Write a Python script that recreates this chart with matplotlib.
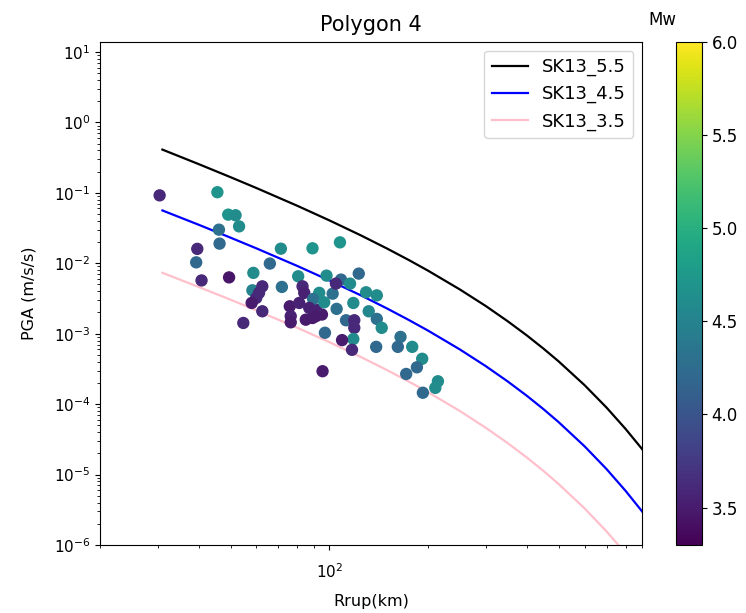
import matplotlib
matplotlib.use("Agg")
import matplotlib.pyplot as plt
from matplotlib.ticker import NullFormatter

# Recorded stations: rupture distance (km), PGA (m/s/s), magnitude
rrup = [30.4, 45.6, 49.2, 51.8, 53.1, 46.1, 46.3, 39.6, 39.3, 40.8,
        49.5, 71.2, 88.9, 107.8, 65.9, 58.7, 80.4, 98.1, 123.0, 71.7,
        58.3, 62.5, 61.1, 59.9, 58.0, 62.5, 54.7, 82.9, 83.9, 75.8,
        81.0, 76.3, 76.3, 84.8, 88.9, 95.0, 91.0, 93.2, 89.3, 96.5,
        102.4, 108.6, 104.8, 115.7, 105.3, 112.5, 119.2, 119.2, 118.4, 109.4,
        117.3, 97.0, 95.4, 118.4, 129.5, 139.6, 131.9, 139.6, 144.5, 139.0,
        164.9, 161.8, 179.0, 192.0, 185.0, 171.6, 214.4, 210.5, 192.9, 86.9,
        91.0]
pga = [0.092, 0.102, 0.049, 0.048, 0.0334, 0.030, 0.019, 0.016, 0.0103, 0.0057,
       0.0063, 0.0161, 0.0163, 0.0198, 0.0099, 0.0073, 0.00653, 0.00667, 0.00713, 0.00461,
       0.00413, 0.0047, 0.0038, 0.00322, 0.00273, 0.00208, 0.00142, 0.0047, 0.0038, 0.00245,
       0.00273, 0.00177, 0.00145, 0.00158, 0.00167, 0.00187, 0.0022, 0.0038, 0.00311, 0.00279,
       0.0037, 0.00586, 0.00514, 0.00514, 0.00225, 0.00155, 0.00155, 0.00121, 0.00084, 0.00081,
       0.00059, 0.00103, 0.000293, 0.00273, 0.00387, 0.0035, 0.00208, 0.00162, 0.00121, 0.00065,
       0.0009, 0.00065, 0.00065, 0.00044, 0.000333, 0.000268, 0.000211, 0.00017, 0.000145, 0.00232,
       0.00177]
mw = [3.6, 4.7, 4.7, 4.6, 4.6, 4.3, 4.2, 3.6, 4.2, 3.6,
      3.45, 4.6, 4.7, 4.7, 4.2, 4.6, 4.6, 4.6, 4.2, 4.3,
      4.5, 3.6, 3.6, 3.6, 3.5, 3.6, 3.6, 3.6, 3.55, 3.5,
      3.55, 3.55, 3.5, 3.5, 3.5, 3.5, 3.55, 4.6, 4.3, 4.6,
      4.3, 4.2, 3.6, 4.6, 4.3, 4.2, 3.6, 3.6, 4.6, 3.5,
      3.6, 4.2, 3.5, 4.6, 4.6, 4.6, 4.55, 4.3, 4.6, 4.2,
      4.3, 4.2, 4.6, 4.6, 4.2, 4.2, 4.6, 4.6, 4.2, 3.55,
      3.5]

# SK13 median predictions for three magnitudes
curve_r = [31, 40, 50, 60, 80, 100, 125, 150, 175, 200, 250, 300, 350, 400, 450, 500,
           600, 700, 800, 900, 1000]
sk13_55 = [0.411, 0.2556, 0.1669, 0.1169, 0.0653, 0.0407, 0.0248, 0.01618, 0.01108, 0.00785,
           0.00425, 0.00247, 0.0015, 0.000946, 0.000612, 0.000405,
           0.000186, 8.94e-5, 4.45e-5, 2.28e-5, 1.19e-5]
sk13_45 = [0.0562, 0.0352, 0.0231, 0.01625, 0.00913, 0.00571, 0.00349, 0.00228, 0.00156, 0.001106,
           0.000598, 0.000346, 0.0002096, 0.0001315, 8.46e-5, 5.56e-5,
           2.52e-5, 1.197e-5, 5.88e-6, 2.97e-6, 1.53e-6]
sk13_35 = [0.00732, 0.0046, 0.00304, 0.00214, 0.00121, 0.000759, 0.000465, 0.000304, 0.000208, 0.0001478,
           7.99e-5, 4.61e-5, 2.79e-5, 1.747e-5, 1.122e-5, 7.35e-6,
           3.31e-6, 1.56e-6, 7.61e-7, 3.81e-7, 1.95e-7]

fig = plt.figure(figsize=(7.46, 6.13), dpi=100)
ax = fig.add_axes([0.134, 0.111, 0.727, 0.821])
cax = fig.add_axes([0.906, 0.111, 0.035, 0.821])

ax.plot(curve_r, sk13_55, color="black", lw=1.6, label="SK13_5.5")
ax.plot(curve_r, sk13_45, color="blue", lw=1.6, label="SK13_4.5")
ax.plot(curve_r, sk13_35, color="pink", lw=1.6, label="SK13_3.5")
sc = ax.scatter(rrup, pga, c=mw, cmap="viridis", vmin=3.3, vmax=6.0, s=62, zorder=3)

ax.set_xscale("log")
ax.set_yscale("log")
ax.set_xlim(20, 900)
ax.set_ylim(1e-6, 14)
ax.xaxis.set_minor_formatter(NullFormatter())
ax.set_xlabel("Rrup(km)", fontsize=11.5, labelpad=9)
ax.set_ylabel("PGA (m/s/s)", fontsize=11.5, labelpad=12)
ax.set_title("Polygon 4", fontsize=15, pad=8)
ax.tick_params(labelsize=11)
ax.tick_params(axis="x", which="major", pad=9)
ax.legend(loc="upper right", fontsize=13)

cb = fig.colorbar(sc, cax=cax)
cb.ax.tick_params(labelsize=12)
cax.text(-0.5, 1.025, "Mw", ha="center", va="bottom", fontsize=12, transform=cax.transAxes)

fig.savefig("out.png", dpi=100)
